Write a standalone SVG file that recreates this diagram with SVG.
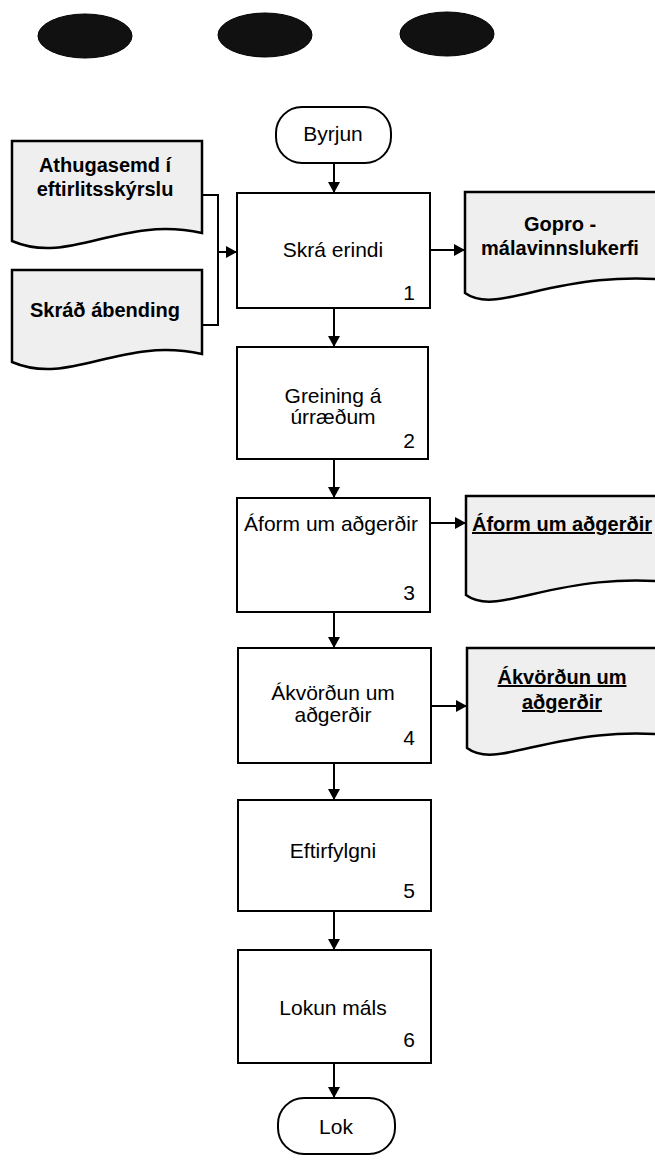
<svg xmlns="http://www.w3.org/2000/svg" width="655" height="1161" viewBox="0 0 655 1161">
<style>
.box{fill:#fff;stroke:#000;stroke-width:2}
.term{fill:#fff;stroke:#000;stroke-width:2}
.doc{fill:#efefef;stroke:#000;stroke-width:2.5}
.oval{fill:#111;stroke:#000;stroke-width:1}
.t{font-family:"Liberation Sans",Arial,sans-serif;font-size:21px;fill:#000;text-anchor:middle}
.n{font-family:"Liberation Sans",Arial,sans-serif;font-size:21px;fill:#000;text-anchor:end}
.d{font-family:"Liberation Sans",Arial,sans-serif;font-size:20px;font-weight:bold;fill:#000;text-anchor:middle}
.u{text-decoration:underline}
.c{fill:none;stroke:#000;stroke-width:2}
</style>
<defs>
<marker id="ah" markerWidth="12" markerHeight="12" refX="11" refY="6" orient="auto" markerUnits="userSpaceOnUse"><path d="M0,0 L11,6 L0,12 z" fill="#000"/></marker>
</defs>
<rect width="655" height="1161" fill="#fff"/>
<g id="ovals">
<ellipse class="oval" cx="85" cy="36" rx="47" ry="22"/>
<ellipse class="oval" cx="265" cy="35" rx="47" ry="22"/>
<ellipse class="oval" cx="447" cy="34" rx="47" ry="22"/>
</g>
<g id="byrjun"><rect class="term" x="276" y="107" width="115" height="56" rx="26"/><text class="t" x="333" y="141">Byrjun</text></g>
<g id="doc-athugasemd"><path class="doc" d="M12,141 H202 V233 C120,215 70,266 12,241 Z"/><text class="d" x="105" y="172">Athugasemd í</text><text class="d" x="105" y="196">eftirlitsskýrslu</text></g>
<g id="doc-skrad"><path class="doc" d="M12,270 H202 V354 C120,336 70,387 12,362 Z"/><text class="d" x="105" y="317">Skráð ábending</text></g>
<g id="box1"><rect class="box" x="237" y="193" width="193" height="115"/><text class="t" x="333" y="257">Skrá erindi</text><text class="n" x="415" y="300">1</text></g>
<g id="doc-gopro"><path class="doc" d="M465,192 H695 V283 C560,263 500,318 465,293 Z"/><text class="d" x="560" y="231">Gopro -</text><text class="d" x="560" y="255">málavinnslukerfi</text></g>
<g id="box2"><rect class="box" x="237" y="347" width="191" height="112"/><text class="t" x="333" y="403">Greining á</text><text class="t" x="333" y="424">úrræðum</text><text class="n" x="415" y="448">2</text></g>
<g id="box3"><rect class="box" x="237" y="498" width="193" height="114"/><text class="t" x="331" y="531">Áform um aðgerðir</text><text class="n" x="415" y="600">3</text></g>
<g id="doc-aform"><path class="doc" d="M466,496 H695 V585 C560,565 500,620 466,595 Z"/><text class="d u" x="562" y="531">Áform um aðgerðir</text></g>
<g id="box4"><rect class="box" x="238" y="648" width="193" height="115"/><text class="t" x="333" y="700">Ákvörðun um</text><text class="t" x="333" y="722">aðgerðir</text><text class="n" x="415" y="745">4</text></g>
<g id="doc-akvordun"><path class="doc" d="M467,648 H695 V738 C560,718 500,773 467,748 Z"/><text class="d u" x="562" y="684">Ákvörðun um</text><text class="d u" x="562" y="709">aðgerðir</text></g>
<g id="box5"><rect class="box" x="238" y="800" width="193" height="111"/><text class="t" x="333" y="858">Eftirfylgni</text><text class="n" x="415" y="898">5</text></g>
<g id="box6"><rect class="box" x="238" y="950" width="193" height="113"/><text class="t" x="333" y="1015">Lokun máls</text><text class="n" x="415" y="1047">6</text></g>
<g id="lok"><rect class="term" x="278" y="1098" width="117" height="56" rx="26"/><text class="t" x="336" y="1134">Lok</text></g>
<g id="connectors">
<path class="c" d="M334,163 V193" marker-end="url(#ah)"/>
<path class="c" d="M334,308 V347" marker-end="url(#ah)"/>
<path class="c" d="M334,459 V498" marker-end="url(#ah)"/>
<path class="c" d="M334,612 V648" marker-end="url(#ah)"/>
<path class="c" d="M334,763 V800" marker-end="url(#ah)"/>
<path class="c" d="M334,911 V950" marker-end="url(#ah)"/>
<path class="c" d="M334,1063 V1098" marker-end="url(#ah)"/>
<path class="c" d="M202,195 H218 V325 H202"/>
<path class="c" d="M218,252 H237" marker-end="url(#ah)"/>
<path class="c" d="M430,250 H465" marker-end="url(#ah)"/>
<path class="c" d="M430,523 H466" marker-end="url(#ah)"/>
<path class="c" d="M431,706 H467" marker-end="url(#ah)"/>
</g>
</svg>
